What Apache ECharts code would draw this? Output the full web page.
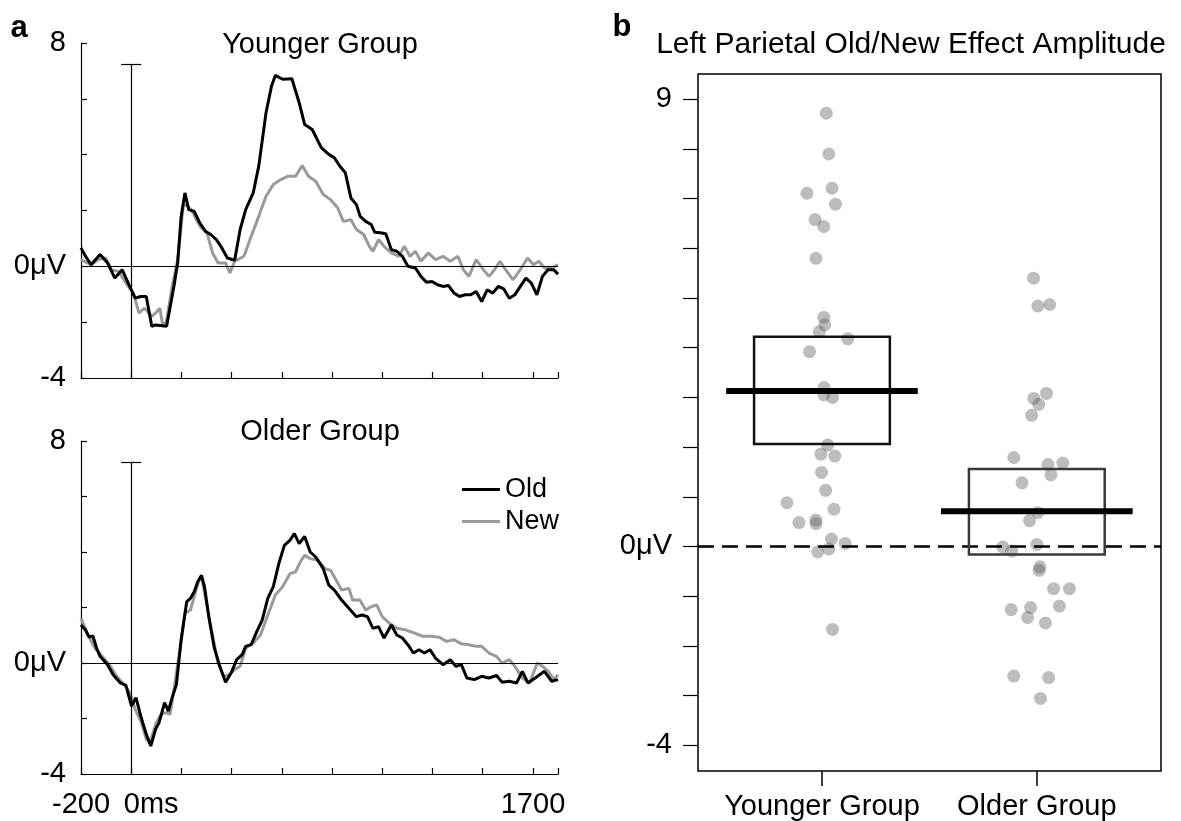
<!DOCTYPE html>
<html>
<head>
<meta charset="utf-8">
<script src="https://cdn.jsdelivr.net/npm/echarts@6/dist/echarts.min.js"></script>
<style>
  html, body { margin: 0; padding: 0; background: #fff; }
  #main { width: 1181px; height: 821px; }
</style>
</head>
<body>
<div id="main"></div>
<script>
// ---- data: panel a, ERP waveforms [ms, µV] ----
var youngOld = [[-200,0.66],[-182,0.36],[-160,0.06],[-124,0.42],[-94,0.12],[-65,-0.42],[-36,-0.12],[-6,-0.72],[16,-1.14],[38,-1.08],[60,-1.08],[82,-2.15],[97,-2.10],[141,-2.15],[170,-0.72],[185,0.12],[199,1.79],[214,2.63],[229,2.03],[251,1.97],[273,1.56],[295,1.26],[317,1.14],[339,0.96],[361,0.66],[383,0.30],[412,0.22],[434,1.32],[456,2.03],[486,2.63],[508,3.59],[537,5.50],[559,6.46],[574,6.84],[603,6.70],[640,6.72],[669,5.86],[691,5.08],[721,4.90],[757,4.25],[787,4.01],[809,3.89],[831,3.59],[853,3.35],[875,2.45],[897,2.21],[912,1.79],[934,1.61],[956,1.50],[970,1.22],[992,1.20],[1014,1.17],[1036,0.60],[1058,0.54],[1080,0.36],[1102,0.00],[1132,-0.06],[1154,-0.36],[1176,-0.57],[1198,-0.54],[1220,-0.66],[1242,-0.72],[1264,-0.69],[1286,-0.96],[1308,-1.08],[1330,-1.02],[1352,-1.02],[1374,-0.90],[1396,-1.26],[1418,-0.84],[1440,-0.96],[1462,-0.72],[1484,-0.81],[1506,-1.14],[1528,-1.02],[1550,-0.72],[1572,-0.42],[1594,-0.60],[1616,-1.02],[1638,-0.36],[1660,-0.12],[1682,-0.12],[1700,-0.28]];
var youngNew = [[-200,0.24],[-160,0.06],[-131,0.24],[-102,0.30],[-80,-0.12],[-50,-0.18],[-21,-0.60],[8,-0.96],[31,-1.67],[53,-1.50],[82,-1.79],[104,-1.61],[114,-1.50],[126,-2.15],[141,-1.95],[163,-0.72],[185,0.24],[207,2.15],[221,2.21],[243,1.97],[273,1.44],[302,1.20],[324,0.48],[346,0.12],[376,0.12],[393,-0.24],[412,0.18],[449,0.36],[478,1.08],[508,1.79],[537,2.51],[566,2.93],[596,3.11],[625,3.23],[655,3.23],[681,3.61],[706,3.23],[735,3.05],[765,2.57],[794,2.39],[823,2.09],[845,1.61],[875,1.67],[897,1.32],[926,1.14],[948,0.72],[963,0.54],[985,0.96],[1007,0.72],[1036,0.48],[1066,0.36],[1088,0.72],[1110,0.36],[1132,0.54],[1154,0.18],[1183,0.48],[1212,0.24],[1242,0.36],[1271,0.18],[1301,0.36],[1323,-0.12],[1345,-0.36],[1374,0.24],[1403,-0.12],[1425,-0.36],[1447,-0.12],[1469,0.18],[1491,-0.12],[1521,-0.48],[1550,-0.12],[1579,0.30],[1602,0.06],[1624,0.18],[1646,-0.06],[1675,-0.06],[1700,0.06]];
var olderOld = [[-200,1.37],[-182,1.19],[-168,0.93],[-153,0.98],[-138,0.54],[-124,0.24],[-94,-0.06],[-72,-0.42],[-43,-0.72],[-21,-0.81],[1,-1.55],[19,-1.25],[38,-1.91],[60,-2.57],[78,-2.99],[97,-2.39],[111,-2.15],[133,-1.43],[148,-1.73],[163,-1.25],[180,-0.78],[199,0.84],[221,2.21],[236,2.33],[251,2.57],[265,2.93],[280,3.16],[292,2.75],[309,1.67],[331,0.54],[353,-0.12],[376,-0.69],[398,-0.36],[420,0.12],[442,0.30],[456,0.60],[478,0.66],[500,1.13],[522,1.55],[544,2.33],[566,2.75],[588,3.58],[610,4.24],[632,4.42],[650,4.66],[669,4.30],[691,4.56],[713,4.00],[735,3.82],[765,3.40],[787,2.81],[809,2.63],[838,2.27],[867,1.97],[897,1.67],[919,1.73],[941,1.67],[963,1.25],[985,1.31],[1007,0.90],[1036,1.37],[1058,1.01],[1080,0.90],[1102,0.66],[1124,0.36],[1146,0.48],[1168,0.36],[1190,0.48],[1212,0.18],[1242,-0.06],[1271,0.12],[1293,-0.12],[1315,-0.06],[1337,-0.54],[1367,-0.60],[1396,-0.48],[1425,-0.54],[1455,-0.45],[1477,-0.69],[1506,-0.66],[1535,-0.72],[1558,-0.30],[1580,-0.72],[1609,-0.54],[1646,-0.30],[1675,-0.66],[1700,-0.60]];
var olderNew = [[-200,1.61],[-175,1.07],[-146,0.54],[-116,0.24],[-87,-0.06],[-58,-0.48],[-28,-0.78],[-6,-1.07],[16,-1.67],[38,-2.09],[60,-2.75],[75,-2.87],[97,-2.21],[119,-1.85],[141,-1.79],[155,-1.85],[170,-0.96],[192,0.36],[214,1.79],[236,1.91],[251,2.39],[268,2.93],[280,3.10],[295,2.39],[317,1.31],[346,0.00],[368,-0.48],[390,-0.42],[412,-0.24],[434,-0.12],[456,0.54],[486,0.72],[515,1.01],[544,1.73],[574,2.45],[603,2.75],[632,3.22],[654,3.28],[677,3.70],[691,3.88],[713,3.76],[743,3.70],[772,3.40],[794,3.34],[816,2.99],[838,2.63],[867,2.69],[882,2.27],[911,2.27],[934,1.91],[956,2.03],[978,2.09],[1000,1.67],[1029,1.43],[1058,1.25],[1095,1.19],[1132,1.07],[1161,0.96],[1190,0.96],[1227,0.93],[1256,0.78],[1286,0.84],[1315,0.69],[1345,0.66],[1374,0.60],[1396,0.60],[1425,0.36],[1455,0.24],[1477,0.00],[1506,0.12],[1528,-0.12],[1558,-0.54],[1587,-0.72],[1617,0.00],[1639,-0.12],[1661,-0.30],[1683,-0.60],[1700,-0.42]];

// ---- data: panel b, per-participant effect [group position + jitter, µV] ----
var youngerDots = [[1.020,8.72],[1.032,7.90],[0.930,7.11],[1.047,7.21],[1.063,6.89],[0.968,6.58],[1.008,6.44],[0.972,5.80],[1.009,4.61],[1.013,4.46],[0.987,4.32],[1.120,4.18],[0.942,3.92],[1.010,3.20],[1.009,3.05],[1.049,3.00],[1.027,2.04],[0.995,1.86],[1.060,1.82],[0.998,1.49],[1.017,1.13],[0.837,0.88],[1.056,0.75],[0.893,0.48],[0.972,0.53],[0.972,0.46],[1.044,0.15],[1.108,0.06],[0.980,-0.11],[1.032,-0.05],[1.049,-1.67]];
var olderDots = [[1.985,5.40],[2.005,4.84],[2.060,4.87],[2.045,3.08],[1.986,2.98],[2.009,2.86],[1.976,2.64],[1.893,1.79],[2.052,1.65],[2.121,1.68],[2.066,1.44],[1.931,1.28],[2.004,0.68],[1.966,0.52],[2.000,0.04],[1.842,-0.01],[1.883,-0.09],[2.014,-0.41],[2.011,-0.48],[2.078,-0.85],[2.152,-0.85],[1.881,-1.27],[1.971,-1.23],[2.105,-1.20],[1.957,-1.43],[2.040,-1.54],[1.893,-2.61],[2.055,-2.64],[2.017,-3.06]];
var groupNames = ['Younger Group', 'Older Group'];
var groupPos = [1, 2];
var groupMean = [3.13, 0.71];
var groupLow = [2.06, -0.16];
var groupHigh = [4.22, 1.56];

var erpTicks = [-200, 1700];
var onsetTick = [0];
var erpYTicks = [-4, 0, 8];
var ampTicks = [-4, -3, -2, -1, 0, 1, 2, 3, 4, 5, 6, 7, 8, 9];
var ampLabels = [-4, 0, 9];
var onsetTop = 7.25;   // height of the 0 ms marker

var FONT = "'Liberation Sans', Arial, sans-serif";
var boxColors = ['#111', '#3a3a3a'];

var boxData = [];
for (var i = 0; i < groupPos.length; i++) {
    boxData.push([groupPos[i], groupLow[i], groupHigh[i], groupMean[i]]);
}

var myChart = echarts.init(document.getElementById('main'));

function erpXAxis(gridIndex, showLabels) {
    return {
        type: 'value',
        gridIndex: gridIndex,
        position: 'bottom',
        min: -200,
        max: 1700,
        interval: 200,
        axisLine: { onZero: false, lineStyle: { color: '#000', width: 1.2 } },
        axisTick: { inside: true, length: 6, lineStyle: { color: '#000', width: 1.2 } },
        splitLine: { show: false },
        axisLabel: {
            show: showLabels,
            showMinLabel: true,
            showMaxLabel: true,
            customValues: erpTicks,
            margin: 16,
            color: '#000',
            fontSize: 29,
            fontFamily: FONT,
            formatter: function (v) {
                if (v === 1700) return '1700{e| }';
                return String(v);
            },
            rich: {
                e: { width: 50, fontSize: 29 }
            }
        }
    };
}

function erpYAxis(gridIndex) {
    return {
        type: 'value',
        gridIndex: gridIndex,
        min: -4,
        max: 8,
        interval: 2,
        axisLine: { show: true, onZero: false, lineStyle: { color: '#000', width: 1.2 } },
        axisTick: { show: true, inside: true, length: 6, lineStyle: { color: '#000', width: 1.2 } },
        splitLine: { show: false },
        axisLabel: {
            customValues: erpYTicks,
            margin: 15,
            color: '#000',
            fontSize: 29,
            fontFamily: FONT,
            formatter: function (v) {
                return v === 0 ? '0μV' : String(v);
            }
        }
    };
}

function onsetMarks() {
    return {
        silent: true,
        symbol: 'none',
        label: { show: false },
        lineStyle: { color: '#000', width: 1.2, type: 'solid' },
        data: [
            { yAxis: 0 },
            [{ coord: [0, -4] }, { coord: [0, onsetTop] }],
            [{ coord: [-40, onsetTop] }, { coord: [40, onsetTop] }]
        ]
    };
}

function trace(name, data, grid, color, marks) {
    var s = {
        name: name,
        type: 'line',
        xAxisIndex: grid,
        yAxisIndex: grid,
        data: data,
        showSymbol: false,
        symbol: 'none',
        lineStyle: { color: color, width: 3 },
        itemStyle: { color: color },
        emphasis: { disabled: true }
    };
    if (marks) s.markLine = onsetMarks();
    return s;
}

var option = {
    animation: false,
    backgroundColor: '#fff',
    textStyle: { fontFamily: FONT },
    grid: [
        { left: 81, top: 43, width: 477, height: 335 },
        { left: 81, top: 441, width: 477, height: 333 },
        { left: 698, top: 74, width: 463, height: 697, show: true, borderColor: '#000', borderWidth: 1.5 }
    ],
    legend: {
        data: ['Old', 'New'],
        orient: 'vertical',
        left: 457,
        top: 471,
        itemWidth: 38,
        itemHeight: 3,
        itemGap: 5,
        icon: 'rect',
        selectedMode: false,
        textStyle: { fontSize: 27, color: '#000', fontFamily: FONT }
    },
    xAxis: [
        erpXAxis(0, false),
        erpXAxis(1, true),
        {
            type: 'value',
            gridIndex: 2,
            position: 'bottom',
            min: 0.423,
            max: 2.578,
            axisLine: { show: false, onZero: false },
            splitLine: { show: false },
            axisTick: { show: true, customValues: groupPos, length: 15, lineStyle: { color: '#000', width: 1.5 } },
            axisLabel: {
                customValues: groupPos,
                margin: 21,
                color: '#000',
                fontSize: 29,
                fontFamily: FONT,
                formatter: function (v) {
                    return groupNames[groupPos.indexOf(v)] || '';
                }
            }
        },
        {
            // separate axis only for the "0ms" onset label
            type: 'value',
            gridIndex: 1,
            position: 'bottom',
            offset: 0,
            min: -200,
            max: 1700,
            axisLine: { show: false, onZero: false },
            axisTick: { show: false },
            splitLine: { show: false },
            axisLabel: {
                customValues: onsetTick,
                margin: 16,
                color: '#000',
                fontSize: 29,
                fontFamily: FONT,
                formatter: function () { return '{s| }0ms'; },
                rich: { s: { width: 40, fontSize: 29 } }
            }
        }
    ],
    yAxis: [
        erpYAxis(0),
        erpYAxis(1),
        {
            type: 'value',
            gridIndex: 2,
            min: -4.52,
            max: 9.51,
            axisLine: { show: false, onZero: false },
            splitLine: { show: false },
            axisTick: { show: true, customValues: ampTicks, length: 15, lineStyle: { color: '#000', width: 1.2 } },
            axisLabel: {
                customValues: ampLabels,
                margin: 26,
                color: '#000',
                fontSize: 29,
                fontFamily: FONT,
                formatter: function (v) {
                    return v === 0 ? '0μV' : String(v);
                }
            }
        }
    ],
    graphic: [
        { type: 'text', x: 19, y: 28, style: { text: 'a', font: 'bold 31px ' + FONT, fill: '#000', textAlign: 'center', textVerticalAlign: 'middle' } },
        { type: 'text', x: 622, y: 27, style: { text: 'b', font: 'bold 31px ' + FONT, fill: '#000', textAlign: 'center', textVerticalAlign: 'middle' } },
        { type: 'text', x: 320, y: 45, style: { text: 'Younger Group', font: '29px ' + FONT, fill: '#000', textAlign: 'center', textVerticalAlign: 'middle' } },
        { type: 'text', x: 320, y: 432, style: { text: 'Older Group', font: '29px ' + FONT, fill: '#000', textAlign: 'center', textVerticalAlign: 'middle' } },
        { type: 'text', x: 911, y: 45, style: { text: 'Left Parietal Old/New Effect Amplitude', font: '30px ' + FONT, fill: '#000', textAlign: 'center', textVerticalAlign: 'middle' } }
    ],
    series: [
        trace('New', youngNew, 0, '#9a9a9a', true),
        trace('Old', youngOld, 0, '#000', false),
        trace('New', olderNew, 1, '#9a9a9a', true),
        trace('Old', olderOld, 1, '#000', false),
        {
            name: 'younger',
            type: 'scatter',
            xAxisIndex: 2,
            yAxisIndex: 2,
            data: youngerDots,
            symbolSize: 13,
            itemStyle: { color: 'rgba(90,90,90,0.5)' },
            markLine: {
                silent: true,
                symbol: 'none',
                label: { show: false },
                lineStyle: { color: '#000', width: 2.5, type: [16, 8] },
                data: [{ yAxis: 0 }]
            }
        },
        {
            name: 'older',
            type: 'scatter',
            xAxisIndex: 2,
            yAxisIndex: 2,
            data: olderDots,
            symbolSize: 13,
            itemStyle: { color: 'rgba(90,90,90,0.5)' }
        },
        {
            name: 'mean',
            type: 'custom',
            xAxisIndex: 2,
            yAxisIndex: 2,
            data: boxData,
            encode: { x: 0, y: [1, 2, 3] },
            z: 5,
            renderItem: function (params, api) {
                var x = api.value(0);
                var p1 = api.coord([x - 0.316, api.value(2)]);
                var p2 = api.coord([x + 0.316, api.value(1)]);
                var m1 = api.coord([x - 0.446, api.value(3)]);
                var m2 = api.coord([x + 0.446, api.value(3)]);
                return {
                    type: 'group',
                    children: [
                        { type: 'rect', shape: { x: p1[0], y: p1[1], width: p2[0] - p1[0], height: p2[1] - p1[1] },
                          style: { fill: 'none', stroke: boxColors[params.dataIndex], lineWidth: 2.5 } },
                        { type: 'line', shape: { x1: m1[0], y1: m1[1], x2: m2[0], y2: m2[1] },
                          style: { stroke: '#000', lineWidth: 6 } }
                    ]
                };
            }
        }
    ]
};
myChart.setOption(option);
</script>
</body>
</html>
